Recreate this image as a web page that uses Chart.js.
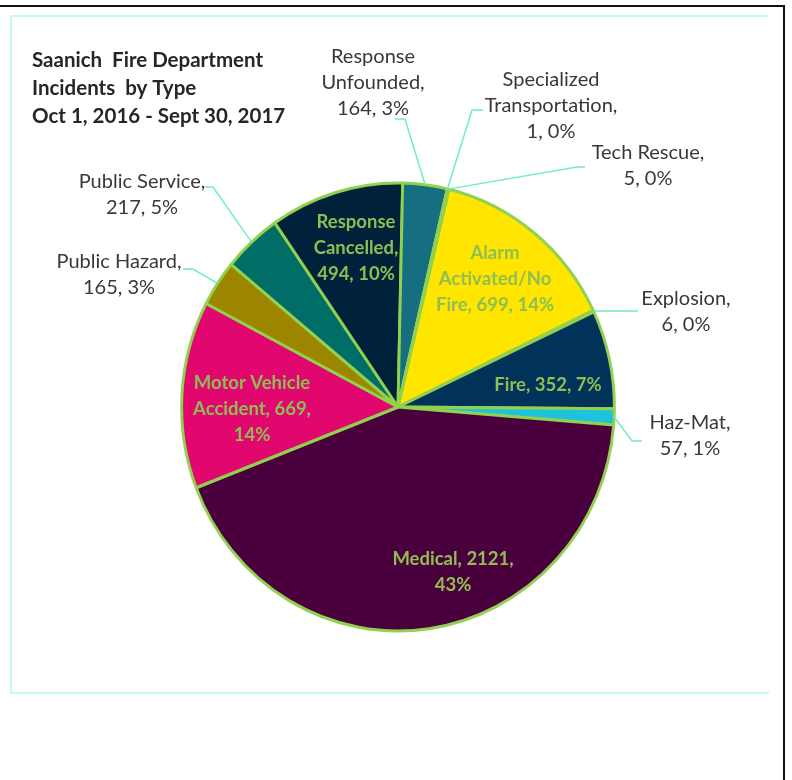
<!DOCTYPE html>
<html>
<head>
<meta charset="utf-8">
<script src="https://cdn.jsdelivr.net/npm/chart.js@4.4.0/dist/chart.umd.min.js"></script>
<style>
  html, body { margin: 0; padding: 0; background: #fff; }
  #page { position: relative; width: 792px; height: 780px; overflow: hidden; }
  #outer { position: absolute; left: 0; top: 5px; width: 783px; height: 800px; border-top: 2px solid #111; border-right: 2px solid #111; }
  #frame { position: absolute; left: 10px; top: 15px; width: 757px; height: 675px; border: 2px solid #C6FCE3; border-right: none; }
  #incidents { position: absolute; left: 0; top: 0; }
</style>
</head>
<body>
<div id="page">
  <div id="outer"></div>
  <div id="frame"></div>
  <canvas id="incidents" width="792" height="780"></canvas>
</div>
<script>
const titleLines = ['Saanich  Fire Department', 'Incidents  by Type', 'Oct 1, 2016 - Sept 30, 2017'];

const categories = [
  'Alarm Activated/No Fire', 'Explosion', 'Fire', 'Haz-Mat', 'Medical',
  'Motor Vehicle Accident', 'Public Hazard', 'Public Service',
  'Response Cancelled', 'Response Unfounded', 'Specialized Transportation', 'Tech Rescue'
];
const incidents = [699, 6, 352, 57, 2121, 669, 165, 217, 494, 164, 1, 5];
// percentages as printed on the labels
const shares = [14, 0, 7, 1, 43, 14, 3, 5, 10, 3, 0, 0];

const sliceColors = [
  '#FFE500', '#C00000', '#00325A', '#1EC2DA', '#4A003C', '#E2076F',
  '#9C8600', '#006D67', '#00213A', '#156F80', '#7F6000', '#2F5597'
];

// the pie is drawn a little narrower than it is tall
const squeezeX = 0.966;

// where each data label goes. rows = words per line.
// outside labels also get a leader line: slice edge -> elbow -> end
const labelLayout = [
  { x: 495, y: 253, rows: [1, 1, 3], inside: true },
  { x: 686, y: 299, rows: [1, 2], elbow: [638, 311] },
  { x: 548, y: 385, rows: [3], inside: true },
  { x: 690, y: 423, rows: [1, 2], elbow: [632, 441], end: [642, 441] },
  { x: 453, y: 559, rows: [2, 1], inside: true },
  { x: 252, y: 383, rows: [2, 2, 1], inside: true },
  { x: 119, y: 262, rows: [2, 2], elbow: [193, 269], end: [183, 269] },
  { x: 142, y: 182, rows: [2, 2], elbow: [213, 187], end: [205, 187] },
  { x: 356, y: 222, rows: [1, 1, 2], inside: true },
  { x: 373, y: 57, rows: [1, 1, 2], elbow: [405, 119], end: [395, 119] },
  { x: 551, y: 80, rows: [1, 1, 2], elbow: [472, 110], end: [483, 110] },
  { x: 648, y: 153, rows: [2, 2], elbow: [577, 167], end: [585, 167] }
];

const labelLines = (i) => {
  const words = `${categories[i]}, ${incidents[i]}, ${shares[i]}%`.split(' ');
  const lines = [];
  let k = 0;
  labelLayout[i].rows.forEach(n => {
    lines.push(words.slice(k, k + n).join(' '));
    k += n;
  });
  return lines;
};

const pieLabels = {
  id: 'pieLabels',
  beforeDatasetsDraw(chart) {
    const { ctx } = chart;
    const { x, y } = chart.getDatasetMeta(0).data[0];
    ctx.save();
    ctx.translate(x, y);
    ctx.scale(squeezeX, 1);
    ctx.translate(-x, -y);
  },
  afterDatasetsDraw(chart) {
    const { ctx } = chart;
    ctx.restore();
    const arcs = chart.getDatasetMeta(0).data;
    ctx.save();
    ctx.textAlign = 'center';
    ctx.textBaseline = 'middle';

    // leader lines first so the text sits on top
    ctx.strokeStyle = '#70EEC0';
    ctx.lineWidth = 1.5;
    arcs.forEach((arc, i) => {
      const spot = labelLayout[i];
      if (spot.inside) return;
      const mid = (arc.startAngle + arc.endAngle) / 2;
      ctx.beginPath();
      ctx.moveTo(arc.x + Math.cos(mid) * arc.outerRadius * squeezeX, arc.y + Math.sin(mid) * arc.outerRadius);
      ctx.lineTo(spot.elbow[0], spot.elbow[1]);
      if (spot.end) ctx.lineTo(spot.end[0], spot.end[1]);
      ctx.stroke();
    });

    arcs.forEach((arc, i) => {
      const spot = labelLayout[i];
      if (spot.inside) {
        ctx.font = 'bold 18.5px Lato';
        ctx.fillStyle = '#8FBE52';
      } else {
        ctx.font = '20px Lato';
        ctx.fillStyle = '#383838';
      }
      labelLines(i).forEach((line, j) => ctx.fillText(line, spot.x, spot.y + j * 26));
    });

    // chart title, top left
    ctx.textAlign = 'left';
    ctx.font = 'bold 20.5px Lato';
    ctx.fillStyle = '#262626';
    titleLines.forEach((line, j) => ctx.fillText(line, 32, 60 + j * 28));
    ctx.restore();
  }
};

new Chart(document.getElementById('incidents'), {
  type: 'pie',
  data: {
    labels: categories,
    datasets: [{
      data: incidents,
      backgroundColor: sliceColors,
      borderColor: '#92D050',
      borderWidth: 3
    }]
  },
  options: {
    responsive: false,
    animation: false,
    rotation: 13.6,
    radius: 224,
    layout: { padding: { left: 150, right: 146, top: 100, bottom: 66 } },
    plugins: {
      legend: { display: false },
      tooltip: { enabled: false }
    }
  },
  plugins: [pieLabels]
});
</script>
</body>
</html>
